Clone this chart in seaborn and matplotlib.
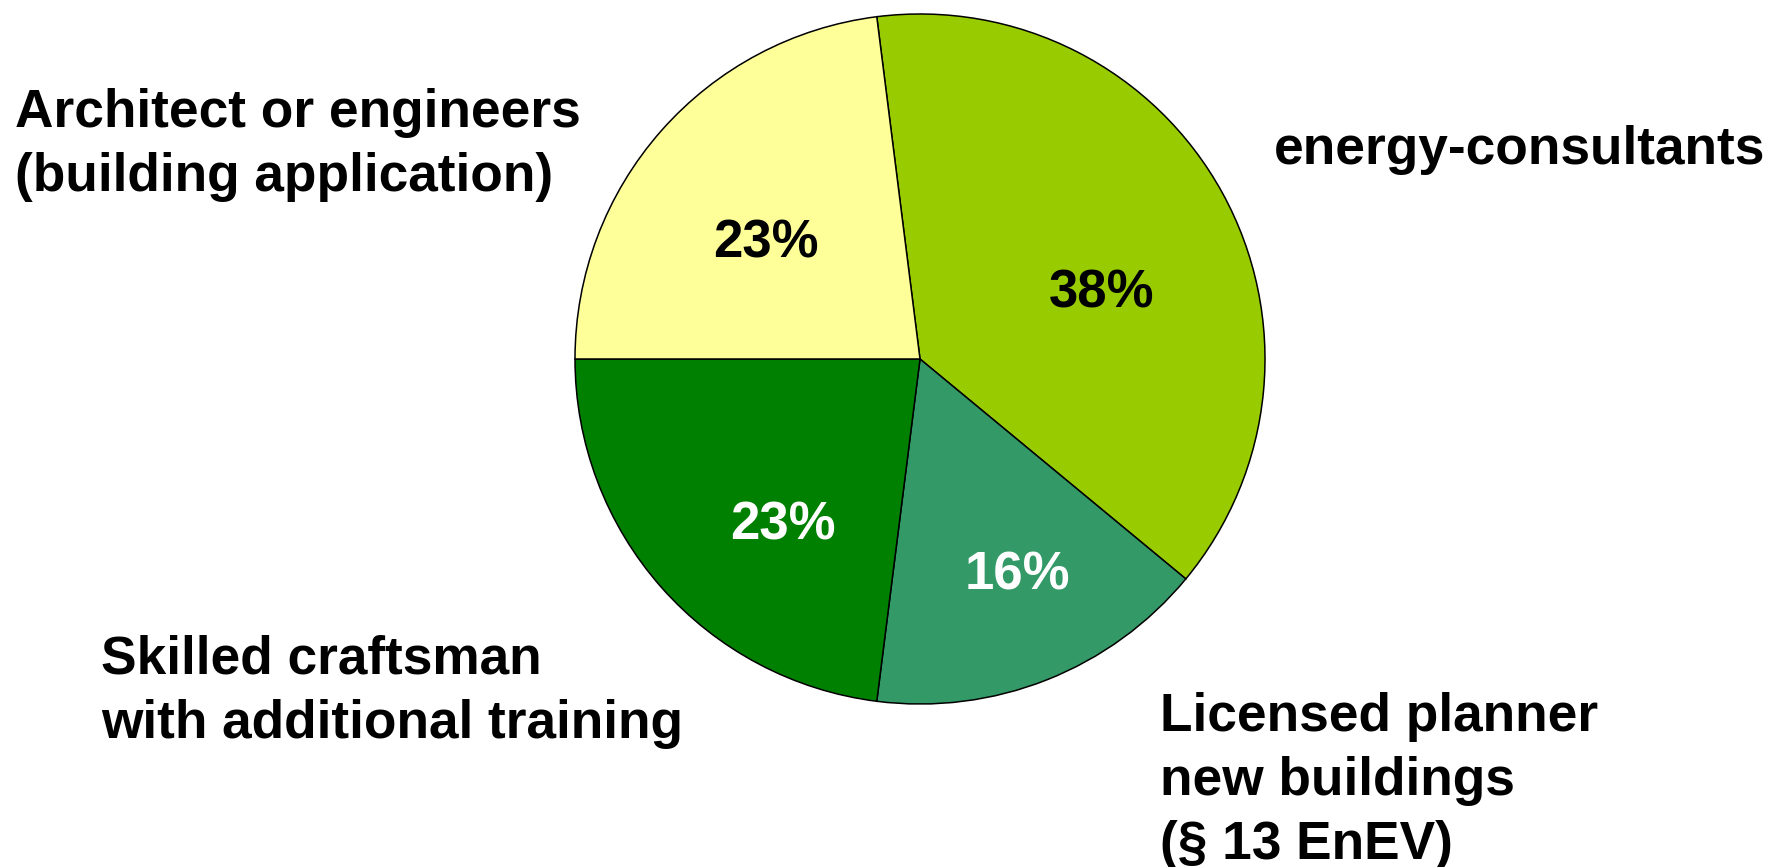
import matplotlib
matplotlib.use("Agg")
import matplotlib.pyplot as plt
import seaborn as sns

# ---- data ----
categories = ["energy-consultants",
              "Licensed planner\nnew buildings\n(§ 13 EnEV)",
              "Skilled craftsman\nwith additional training",
              "Architect or engineers\n(building application)"]
values = [38, 16, 23, 23]
colors = ["#99CC00", "#339966", "#008000", "#FFFF99"]
pct_colors = ["black", "white", "white", "black"]

sns.set_theme(style="white")
plt.rcParams["font.family"] = ["Liberation Sans", "DejaVu Sans"]

W, H = 1771, 867
fig = plt.figure(figsize=(W / 100, H / 100), dpi=100)
fig.patch.set_facecolor("white")

cx, cy, r = 920, 359, 345
ax = fig.add_axes([(cx - r) / W, (H - cy - r) / H, 2 * r / W, 2 * r / H])
wedges, texts, autotexts = ax.pie(
    values, colors=colors, startangle=97.2, counterclock=False, radius=1,
    autopct="%.0f%%", pctdistance=0.6,
    wedgeprops=dict(edgecolor="black", linewidth=1.1),
    textprops=dict(fontsize=38, fontweight="bold"))
ax.set_xlim(-1, 1)
ax.set_ylim(-1, 1)
ax.set_aspect("equal")
ax.axis("off")

# percentage label baseline positions (pixels)
pct_px = [(1102, 307), (1017, 589), (783, 540), (766, 257)]
for t, c, (px, py) in zip(autotexts, pct_colors, pct_px):
    t.set_color(c)
    t.set_position(((px - cx) / r, (cy - py) / r))
    t.set_va("baseline")
    t.set_ha("center")

# category labels: (x_left, first baseline) in pixels
label_px = [(1274, 164), (1160, 731), (101, 674), (15, 127)]
line_step = 64
for text, (px, py) in zip(categories, label_px):
    for i, line in enumerate(text.split("\n")):
        fig.text(px / W, 1 - (py + i * line_step) / H, line, fontsize=38.3,
                 fontweight="bold", ha="left", va="baseline", color="black")

fig.savefig("out.png", dpi=100)
